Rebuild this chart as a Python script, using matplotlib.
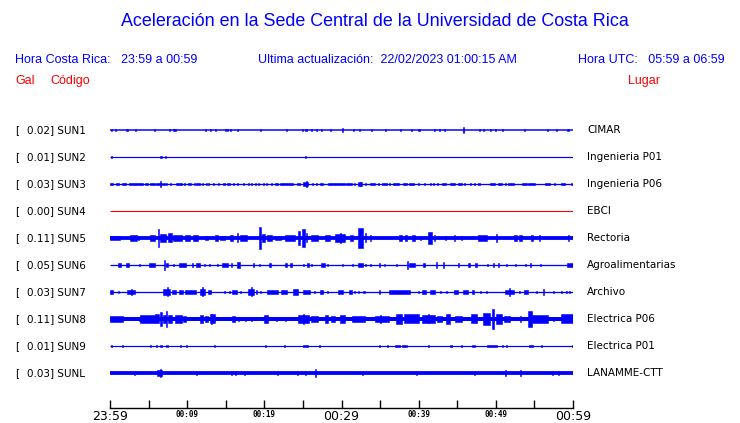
import matplotlib
matplotlib.use("Agg")
import matplotlib.pyplot as plt

# ---------------- data ----------------
codes = ["SUN1", "SUN2", "SUN3", "SUN4", "SUN5", "SUN6", "SUN7", "SUN8", "SUN9", "SUNL"]
gal = [0.02, 0.01, 0.03, 0.00, 0.11, 0.05, 0.03, 0.11, 0.01, 0.03]
places = ["CIMAR", "Ingenieria P01", "Ingenieria P06", "EBCI", "Rectoria",
          "Agroalimentarias", "Archivo", "Electrica P06", "Electrica P01", "LANAMME-CTT"]
# background noise half-amplitude (approx. pixels) per trace
base_amp = [0.75, 0.6, 0.65, 0.45, 1.9, 0.65, 0.65, 2.0, 0.6, 1.9]

# bursts: (start minute, end minute, half amplitude)
ev_sun1 = [(0.13,0.13,1.2),(0.65,0.65,1.2),(2.05,2.3,1.5),(3.33,3.33,1.2),(5.75,5.75,0.8),(7.69,7.69,1.2),
           (8.2,8.5,1.5),(12.35,12.35,1.2),(13.0,13.0,1.2),(13.65,13.65,0.8),(15.0,15.0,1.2),(15.2,15.2,1.5),
           (15.55,15.7,1.5),(16.5,16.5,1.2),(19.4,19.6,1.5),(22.85,22.85,0.8),(24.97,24.97,1.0),(25.3,25.5,1.5),
           (26.1,26.1,1.2),(26.8,26.8,1.2),(27.4,27.4,1.2),(28.5,28.7,1.5),(30.15,30.15,2.5),(31.6,31.6,1.2),
           (32.3,32.3,1.0),(33.87,33.87,1.2),(35.7,35.7,0.8),(37.6,37.6,1.2),(39.05,39.05,1.2),(39.95,40.2,1.5),
           (42.03,42.03,1.0),(42.7,42.7,1.2),(43.3,43.3,1.2),(45.7,45.9,1.5),(45.8,45.8,2.8),(47.8,48.0,1.5),
           (48.4,48.4,1.2),(49.3,49.3,1.2),(49.9,49.9,0.8),(50.85,50.85,1.2),(53.7,53.7,1.0),(56.6,56.8,1.5),
           (57.8,57.8,1.2),(59.2,59.45,1.5)]
ev_sun2 = [(0.13,0.13,1.0),(6.45,6.7,1.5),(7.17,7.17,1.2),(25.3,25.3,1.2)]
ev_sun3 = [(0,0.4,1.5),(0.8,1.2,1.5),(1.5,1.9,1.5),(2.0,2.0,1.5),(2.5,4.3,1.5),(4.5,4.9,1.5),(5.2,5.8,1.5),
           (6.0,6.7,1.5),(6.5,6.5,2.8),(6.9,7.1,1.5),(7.3,7.3,1.2),(7.9,7.9,1.2),(8.5,9.3,1.5),(9.6,9.6,1.2),
           (10.15,10.5,1.5),(10.9,10.9,1.2),(11.2,11.6,1.5),(11.9,12.1,1.5),(12.5,12.5,1.2),(12.7,12.7,1.2),
           (13.4,13.4,1.2),(14.0,14.0,1.2),(14.7,14.9,1.5),(15.1,15.55,1.5),(16.0,16.0,1.2),(16.4,16.6,1.5),
           (17.3,17.3,1.2),(17.9,17.9,1.2),(18.35,18.35,1.2),(18.8,18.8,1.2),(19.3,19.3,1.2),(19.9,19.9,1.2),
           (20.3,20.3,1.2),(20.9,20.9,1.2),(21.4,21.8,1.5),(22.0,23.75,1.5),(24.2,24.6,1.5),(25.05,25.7,1.8),
           (25.4,25.4,3.0),(26.2,26.2,1.2),(26.8,26.8,1.2),(27.2,27.65,1.5),(28.3,30.45,1.5),(30.6,31.3,1.5),
           (31.7,31.7,1.2),(32.2,32.6,1.8),(32.4,32.4,2.5),(33.0,33.2,1.5),(33.7,34.3,1.5),(34.8,34.8,1.2),
           (35.2,35.9,1.5),(36.2,36.2,1.2),(36.7,37.4,1.5),(38.0,38.5,1.5),(38.7,39.4,1.5),(40.0,40.0,1.2),
           (40.8,40.8,1.2),(41.5,41.5,1.2),(41.9,41.9,1.2),(42.5,42.5,1.2),(43.0,43.6,1.5),(44.0,44.7,1.5),
           (45.1,45.6,1.5),(46.0,46.0,1.2),(46.7,46.7,1.2),(47.3,47.3,1.2),(47.7,47.9,1.5),(49.25,49.9,1.5),
           (50.3,50.75,1.5),(51.2,51.2,1.2),(51.6,52.3,1.5),(53.35,54.0,1.5),(54.2,55.1,1.5),(56.4,57.0,1.5),
           (57.6,57.6,1.2),(58.5,59.0,1.5),(59.8,59.8,1.2)]
ev_sun4 = []
ev_sun5 = [(0,1.3,2.5),(2.6,3.45,3),(3.7,3.7,2.5),(5.2,5.8,3),(6.2,6.35,10),(6.5,7.3,4),(7.55,8.0,5),
           (8.2,9.3,3),(9.7,10.4,3),(10.7,11.45,3),(12.3,12.75,2.5),(13.6,14.0,3),(14.25,14.9,2.5),
           (15.55,16.0,3),(16.5,16.5,5),(16.85,17.7,3),(19.3,19.55,12),(19.65,20.1,4),(20.3,20.95,3),
           (21.4,22.2,2.5),(22.7,24.0,3),(24.4,24.6,8),(24.85,25.3,10),(25.5,25.5,5),(26.1,27.0,3),
           (27.9,28.5,3),(29.2,30.45,4),(29.9,29.9,6),(31.1,31.5,3),(32.1,32.8,11),(33.0,33.2,5),
           (33.7,33.7,3),(37.4,37.8,3),(38.25,38.5,3),(39.1,39.5,3),(40.2,40.2,2.5),(41.25,41.7,6.5),
           (42.0,42.0,3),(43.4,43.6,2.5),(44.7,44.7,3),(45.6,45.6,2.5),(47.7,48.8,3),(50.0,50.2,4),
           (52.3,52.7,3),(53.0,53.4,3),(54.6,54.85,3),(55.7,55.7,3),(59.4,59.4,3)]
ev_sun6 = [(1.1,1.4,2),(2.1,2.4,2),(3.8,3.8,1.2),(5.0,5.8,2),(7.0,7.0,5.5),(7.25,7.55,2),(8.2,8.2,1.2),
           (8.9,9.8,2.5),(10.6,10.8,2),(11.2,11.65,2),(12.3,12.3,1.2),(12.95,12.95,1.2),(13.95,13.95,1.2),
           (14.5,15.3,2.5),(15.8,15.8,2),(16.4,16.85,3.5),(18.6,18.6,2),(19.35,19.35,1),(20.6,20.8,2),
           (22.7,22.9,2),(23.3,23.6,2),(25.05,25.05,1.5),(25.5,25.8,2),(26.1,26.1,1.5),(27.4,27.9,2),
           (28.2,28.2,1.5),(30.15,30.15,1),(31.45,31.45,1.5),(32.2,32.75,2.5),(33.05,33.05,1.2),
           (33.8,33.8,1.2),(34.8,35.0,2.5),(35.6,35.6,1),(37.1,37.1,1.5),(38.55,38.55,4.5),(38.7,39.5,2.5),
           (40.6,40.8,2.5),(42.2,42.4,3),(43.25,43.25,3),(45.15,45.15,2),(46.35,46.65,2.5),(47.3,47.5,2),
           (48.8,49.0,1.5),(49.7,49.7,2.5),(50.25,50.45,2),(51.4,51.4,1.5),(52.5,52.5,1.2),(53.9,53.9,1.5),
           (54.5,54.5,2),(55.7,55.9,1.5),(59.2,59.95,2)]
ev_sun7 = [(0,0.4,2.5),(1.1,1.1,1.5),(2.15,3.3,2),(2.8,2.8,3),(6.9,7.8,3),(7.4,7.4,5),(8.0,8.5,2),
           (8.9,9.4,2),(9.7,11.2,2),(11.65,12.3,3),(11.95,11.95,5),(12.75,13.1,2),(14.9,14.9,1.5),
           (15.55,15.55,1.2),(15.75,16.5,2),(16.85,16.85,1.2),(17.85,18.6,3),(18.3,18.3,5),(19.0,19.0,2),
           (19.45,19.45,1.5),(20.4,21.8,2),(22.1,23.0,2),(23.75,24.4,3),(25.05,25.9,2),(26.55,26.55,1.5),
           (27.2,27.65,2),(28.2,28.2,1.5),(29.6,30.2,2.5),(31.0,31.3,2),(31.7,31.7,1.2),(32.2,32.2,1.2),
           (32.8,33.0,1.5),(34.98,34.98,2),(36.1,38.9,2),(40.0,40.0,1.2),(40.4,41.0,2),(41.5,42.1,2),
           (42.8,42.8,1.2),(43.55,43.55,1.2),(44.6,45.15,2.5),(45.8,46.4,2),(46.9,47.2,2),(48.0,48.0,1.2),
           (48.8,48.8,1.2),(51.2,52.3,2.5),(51.8,51.8,4),(53.05,53.05,1.2),(53.7,54.2,2.5),(55.3,55.3,1.2),
           (56.1,56.3,3.5),(57.45,57.45,1.2),(58.5,58.5,1.2),(59.1,59.1,1.2),(59.6,59.6,1.2)]
ev_sun8 = [(0,1.7,3),(3.7,4.1,2.5),(3.9,5.8,4),(5.8,6.35,5),(6.5,6.7,7.5),(6.9,7.2,4),(7.35,7.35,8.5),
           (7.55,8.0,4),(8.4,9.3,4),(9.5,9.9,3),(11.65,12.1,4),(12.3,12.75,3),(12.95,13.6,5),(13.15,13.15,6),
           (15.75,16.2,3),(16.6,16.6,2.5),(17.5,17.5,2.5),(18.35,18.35,2.5),(19.9,20.5,4),(21.6,21.6,2.5),
           (22.7,22.7,2.5),(24.4,25.8,4),(25.05,25.05,6),(26.1,27.0,3),(27.9,28.3,4),(28.7,29.2,3),
           (29.8,30.5,4),(31.3,33.0,3),(34.3,36.1,3),(35.0,35.0,4),(37.0,37.8,6),(38.05,40.0,5),
           (40.4,42.1,4),(41.25,41.25,5),(42.35,43.0,3),(43.6,44.1,6),(44.7,45.6,3.5),(46.8,47.5,5),
           (48.4,49.25,7),(49.5,49.8,11),(50.0,50.8,6),(51.0,51.85,3),(53.15,53.15,3),(54.2,54.65,9),
           (54.65,56.8,4),(57.45,57.45,2.5),(58.5,59.95,5)]
ev_sun9 = [(0.13,0.13,1.5),(1.6,1.6,1),(5.2,5.2,1.5),(6.05,6.05,1.2),(6.5,6.7,1.5),(7.25,7.55,1.5),
           (9.2,9.2,1),(9.95,9.95,1),(13.5,13.5,1),(20.1,20.1,1),(22.6,22.6,1),(25.05,25.6,1.5),(27.1,27.1,1),
           (34.9,34.9,1),(36.0,36.0,1),(36.9,37.6,1.5),(37.8,38.5,1.5),(41.25,41.25,1),(44.1,44.3,1.2),
           (45.6,45.6,1),(46.9,47.3,1.5),(48.8,50.1,1.5),(50.9,50.9,1),(51.4,51.4,1),(54.3,54.85,1.5),
           (55.9,55.9,1),(59.9,59.9,1)]
ev_sunl = [(3.2,3.2,2.5),(6.05,6.7,3),(6.5,6.5,4),(11.2,11.2,2.5),(15.7,15.7,2.5),(16.2,16.3,2.5),
           (17.4,17.4,2.5),(21.7,21.7,2),(24.3,24.3,2.5),(25.3,25.3,2.5),(26.65,26.65,4),(32.7,32.7,2.5),
           (39.75,39.75,2.5),(47.3,47.3,2.5),(51.3,51.3,3.5),(53.15,53.15,3),(57.3,57.3,2.5),(58.1,58.1,2)]
events = [ev_sun1, ev_sun2, ev_sun3, ev_sun4, ev_sun5, ev_sun6, ev_sun7, ev_sun8, ev_sun9, ev_sunl]

tick_minutes = list(range(0, 61, 5))
tick_labels = ["23:59", "", "00:09", "", "00:19", "", "00:29", "", "00:39", "", "00:49", "", "00:59"]
big_labels = ["23:59", "00:29", "00:59"]

title = "Aceleración en la Sede Central de la Universidad de Costa Rica"
hora_cr = "Hora Costa Rica:   23:59 a 00:59"
ultima = "Ultima actualización:  22/02/2023 01:00:15 AM"
hora_utc = "Hora UTC:   05:59 a 06:59"

# ---------------- drawing ----------------
W, H = 740, 423
fig = plt.figure(figsize=(W / 100, H / 100), dpi=100)
fig.patch.set_facecolor("white")
BLUE = "#0000ff"
RED = "#ff0000"
PX = 0.72  # points per pixel

x0, x1 = 110, 573
y_top, y_axis = 115, 408
ax = fig.add_axes([x0 / W, (H - y_axis) / H, (x1 - x0) / W, (y_axis - y_top) / H])
ax.set_xlim(0, 60)
ax.set_ylim(y_axis, y_top)
ax.set_facecolor("none")
for s in ["top", "left", "right"]:
    ax.spines[s].set_visible(False)
ax.spines["bottom"].set_linewidth(1.0)
ax.set_yticks([])

first_y, spacing = 130, 27
for i, code in enumerate(codes):
    yc = first_y + spacing * i
    col = RED if gal[i] == 0 else BLUE
    ax.hlines(yc, 0, 60, color=col, linewidth=max(2 * base_amp[i] * PX, 0.8), zorder=2)
    for (s, e, a) in events[i]:
        w = max(e - s, 0.13)
        ax.bar((s + e) / 2, 2 * a * 0.9, width=w, bottom=yc - a * 0.9, color=col,
               linewidth=0.4, edgecolor=col, zorder=3)
    # left label
    fig.text(15 / W, 1 - yc / H, "[", fontsize=7.5, color="black", va="center", ha="left",
             family="DejaVu Sans")
    fig.text(27 / W, 1 - yc / H, f"{gal[i]:.2f}] {code}", fontsize=7.5, color="black",
             va="center", ha="left", family="DejaVu Sans")
    fig.text(587 / W, 1 - yc / H, places[i], fontsize=7.5, color="black", va="center",
             ha="left", family="DejaVu Sans")

ax.set_xticks(tick_minutes)
ax.set_xticklabels(tick_labels)
ax.tick_params(axis="x", direction="in", length=8 * PX, width=1.0, pad=1.5)
for lab in ax.get_xticklabels():
    if lab.get_text() in big_labels:
        lab.set_fontsize(9)
        lab.set_family("DejaVu Sans")
    else:
        lab.set_fontsize(5.5)
        lab.set_family("DejaVu Sans Mono")
        lab.set_fontweight("bold")

# header
fig.text(375 / W, 1 - 22 / H, title, fontsize=12.9, color=BLUE, ha="center", va="center",
         family="Liberation Sans")
fig.text(15 / W, 1 - 60 / H, hora_cr, fontsize=9, color=BLUE, ha="left", va="center",
         family="Liberation Sans")
fig.text(387 / W, 1 - 60 / H, ultima, fontsize=9, color=BLUE, ha="center", va="center",
         family="Liberation Sans")
fig.text(725 / W, 1 - 60 / H, hora_utc, fontsize=9, color=BLUE, ha="right", va="center",
         family="Liberation Sans")
fig.text(15 / W, 1 - 81 / H, "Gal", fontsize=9, color=RED, ha="left", va="center",
         family="Liberation Sans")
fig.text(50 / W, 1 - 81 / H, "Código", fontsize=9, color=RED, ha="left", va="center",
         family="Liberation Sans")
fig.text(628 / W, 1 - 81 / H, "Lugar", fontsize=9, color=RED, ha="left", va="center",
         family="Liberation Sans")

fig.savefig("out.png", dpi=100, facecolor="white")
